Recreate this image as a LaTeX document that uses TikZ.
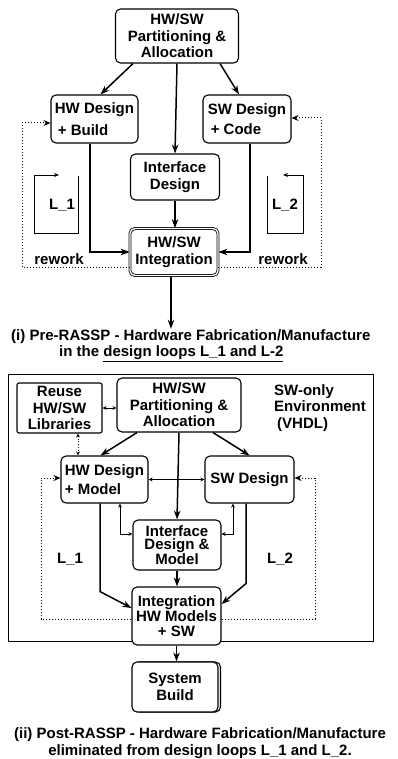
\documentclass[tikz,border=0pt]{standalone}
\usepackage{fontspec}
\setmainfont{Liberation Sans}
\usepackage{tikz}
\usetikzlibrary{calc, arrows.meta, positioning, shadows}

\begin{document}
\begin{tikzpicture}[x=1pt, y=-1pt, font=\bfseries\fontsize{15}{16.5}\selectfont,
    blk/.style={draw, rounded corners=5pt, line width=1.1pt, fill=white, inner sep=1pt, align=center},
    arr/.style={-{Stealth[length=9pt,width=6.5pt]}, line width=1.5pt},
    thn/.style={{Stealth[length=4pt,width=4pt]}-{Stealth[length=4pt,width=4pt]}, line width=0.7pt},
    rew/.style={dotted, line width=1pt, -{Stealth[length=7pt,width=6pt]}},
    lp/.style={line width=0.9pt}]
    \useasboundingbox (0,0) rectangle (397,759);

    % (i) pre-RASSP
    \node[blk, minimum width=123pt, minimum height=54pt] (part1) at (177,36) {HW/SW\\Partitioning \&\\Allocation};
    \node[blk, minimum width=87pt, minimum height=48pt, align=left] (hw1) at (94.5,119) {HW Design\\[5pt]\hspace{3pt}+ Build};
    \node[blk, minimum width=88pt, minimum height=48pt, align=left] (sw1) at (247,119) {SW Design\\[3pt]\hspace{3pt}+ Code};
    \node[blk, minimum width=89pt, minimum height=46pt] (if1) at (175,177) {Interface\\Design};
    \node[blk, minimum width=88pt, minimum height=47pt, double, double distance=1.3pt, line width=0.8pt] (int1) at (174,252) {HW/SW\\Integration};
    \node[anchor=west, inner sep=1pt] (cap1) at (10,337) {(i) Pre-RASSP - Hardware Fabrication/Manufacture};
    \node[anchor=west, inner sep=1pt] (cap1b) at (58,354) {in the \underline{design loops L\_1 and L-2}};
    \node (rw1) at (59,259) {rework};
    \node (rw2) at (283,259) {rework};
    \node (l1) at (62,205) {L\_1};
    \node (l2) at (285,205) {L\_2};
    \coordinate (lx1) at (22,200);
    \coordinate (rx1) at (321,200);
    \coordinate (c1) at ($(int1.south)+(-3,0)$);

    \draw[arr] ($(part1.south)+(-44,0)$) -- ($(hw1.north)+(6,0)$);
    \draw[arr] ($(part1.south)+(43,0)$) -- ($(sw1.north)+(-8,0)$);
    \draw[arr] (part1.south) -- (if1.north);
    \draw[arr] (if1.south) -- (if1.south |- int1.north);
    \draw[arr] ($(hw1.south)+(-4.5,0)$) |- (int1.west);
    \draw[arr] ($(sw1.south)+(3,0)$) |- (int1.east);
    \draw[arr] (c1) -- (c1 |- cap1.north);
    \draw[rew] ($(int1.west)+(0,15)$) -| (lx1) |- ($(hw1.west)+(0,4)$);
    \draw[rew] ($(int1.east)+(0,15)$) -| (rx1) |- ($(sw1.east)+(0,-1)$);
    % small loop marks
    \draw[lp, -{Stealth[length=5pt,width=4pt]}] (78,176) -- (78,233) -- (34,233) -- (34,175) -- (59,175);
    \draw[lp, -{Stealth[length=5pt,width=4pt]}] (267,176) -- (267,233) -- (303,233) -- (303,175) -- (283,175);

    % (ii) post-RASSP
    \node[draw, line width=0.9pt, minimum width=365pt, minimum height=267pt] (env) at (190.5,507.5) {};
    \node[blk, rounded corners=2pt, minimum width=85pt, minimum height=50pt] (reuse) at (59.5,408) {Reuse\\HW/SW\\Libraries};
    \node[blk, minimum width=124pt, minimum height=54pt] (part2) at (179,405) {HW/SW\\Partitioning \&\\Allocation};
    \node[align=left, anchor=north west, inner sep=0pt] (swo) at (274,384) {SW-only\\Environment\\\hspace{3pt}(VHDL)};
    \node[blk, minimum width=87pt, minimum height=47pt, align=left] (hw2) at (104.5,479.5) {HW Design\\[3pt]+ Model};
    \node[blk, minimum width=89pt, minimum height=47pt] (sw2) at (249.5,479.5) {SW Design};
    \node[blk, minimum width=88pt, minimum height=50pt, font=\bfseries\fontsize{15}{13.5}\selectfont] (if2) at (177,545) {Interface\\Design \&\\Model};
    \node[blk, minimum width=89pt, minimum height=58pt, font=\bfseries\fontsize{15}{15}\selectfont] (int2) at (176.5,616) {Integration\\HW Models\\+ SW};
    \node[blk, minimum width=86pt, minimum height=50pt, copy shadow={shadow xshift=2.5pt, shadow yshift=0pt}] (sb) at (175,687) {System\\Build};
    \node[align=center] (cap2) at (200,743) {(ii) Post-RASSP - Hardware Fabrication/Manufacture\\eliminated from design loops L\_1 and L\_2.};
    \node (l3) at (70,559) {L\_1};
    \node (l4) at (280,559) {L\_2};
    \coordinate (lx2) at (41,550);
    \coordinate (rx2) at (315,550);
    \coordinate (rd) at ($(reuse.south)+(18.5,0)$);

    \draw[thn] (reuse.east) -- (reuse.east -| part2.west);
    \draw[thn, dotted] (rd) -- (rd |- hw2.north);
    \draw[arr] ($(part2.south)+(-42,0)$) -- ($(hw2.north)+(-4,0)$);
    \draw[arr] ($(part2.south)+(34,0)$) -- (sw2.north);
    \draw[arr] (part2.south) -- (if2.north);
    \draw[thn] (hw2.east) -- (sw2.west);
    \draw[thn] ($(hw2.south)+(15.5,0)$) |- ($(if2.west)+(0,-11)$);
    \draw[thn] ($(sw2.south)+(-16.5,0)$) |- ($(if2.east)+(0,-11)$);
    \draw[arr] (if2.south) -- (if2.south |- int2.north);
    \draw[arr] ($(hw2.south)+(-4.5,0)$) -- ++(0,88) -- ($(int2.west)+(0,-8)$);
    \draw[arr] ($(sw2.south)+(-3.5,0)$) -- ++(0,80) -- ($(int2.east)+(0,-12)$);
    \draw[rew] ($(int2.west)+(0,3)$) -| (lx2) |- ($(hw2.west)+(0,-1.5)$);
    \draw[rew] ($(int2.east)+(0,3)$) -| (rx2) |- ($(sw2.east)+(0,-1.5)$);
    \draw[arr] (int2.south) -- (int2.south |- sb.north);
\end{tikzpicture}
\end{document}
